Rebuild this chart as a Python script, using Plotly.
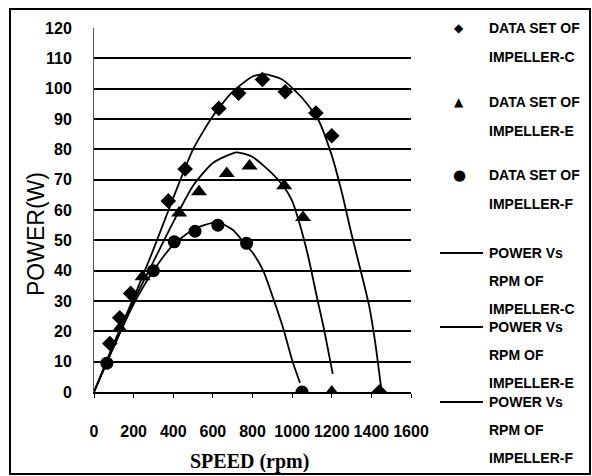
import plotly.graph_objects as go

# ---------------- data ----------------
c_speed = [80, 130, 185, 375, 460, 630, 730, 850, 965, 1120, 1200, 1440]
c_power = [16, 24.5, 32.5, 63, 73.5, 93.5, 98.5, 103, 99, 92, 84.5, 0]

e_speed = [130, 245, 430, 530, 670, 785, 960, 1055, 1200]
e_power = [21, 38, 59, 66, 72, 74.5, 68, 57.5, 0]

f_speed = [65, 300, 405, 510, 625, 770, 1050]
f_power = [9.5, 40, 49.5, 53, 55, 49, 0]

# fitted curves as drawn in the picture
c_curve_x = [0, 100, 200, 300, 400, 500, 600, 700, 800, 860, 950, 1050, 1130, 1200, 1250, 1300, 1350, 1390, 1420, 1450]
c_curve_y = [0, 16, 31, 47, 64, 80, 91, 99, 104, 104.8, 103, 97, 90, 78, 66, 52, 39, 28, 16, 1]

e_curve_x = [0, 100, 200, 300, 400, 500, 600, 720, 800, 900, 960, 1000, 1040, 1080, 1126, 1160, 1190, 1205]
e_curve_y = [0, 15, 30, 43, 56, 68, 75.5, 79, 77.5, 72, 67.5, 63, 55, 45, 31, 21, 11, 6]

f_curve_x = [0, 100, 200, 300, 400, 500, 620, 700, 760, 800, 854, 904, 955, 1000, 1040]
f_curve_y = [0, 15, 29, 40, 48.5, 53.5, 56, 53.5, 49, 46, 40, 31, 21, 10.5, 3]

x_ticks = [0, 200, 400, 600, 800, 1000, 1200, 1400, 1600]
y_ticks = [0, 10, 20, 30, 40, 50, 60, 70, 80, 90, 100, 110, 120]

legend_marker_items = [("diamond", ["DATA SET OF", "IMPELLER-C"]),
                       ("triangle", ["DATA SET OF", "IMPELLER-E"]),
                       ("circle", ["DATA SET OF", "IMPELLER-F"])]
legend_line_items = [["POWER Vs", "RPM OF", "IMPELLER-C"],
                     ["POWER Vs", "RPM OF", "IMPELLER-E"],
                     ["POWER Vs", "RPM OF", "IMPELLER-F"]]

# ---------------- layout geometry ----------------
W, H = 592, 476
L, R, T, B = 94, 411, 28, 392   # plot area in pixels
PW, PH = R - L, B - T


def px(xp):
    return (xp - L) / PW


def py(yp):
    return (B - yp) / PH


SANS = "Liberation Sans, Arial, sans-serif"

fig = go.Figure()

for cx, cy in [(c_curve_x, c_curve_y), (e_curve_x, e_curve_y), (f_curve_x, f_curve_y)]:
    fig.add_trace(go.Scatter(x=cx, y=cy, mode="lines", line=dict(color="black", width=1.8, shape="spline", smoothing=0.6),
                             showlegend=False, hoverinfo="skip"))

fig.add_trace(go.Scatter(x=c_speed, y=c_power, mode="markers", showlegend=False,
                         marker=dict(symbol="diamond", size=12, color="black")))
fig.add_trace(go.Scatter(x=e_speed, y=e_power, mode="markers", showlegend=False,
                         marker=dict(symbol="triangle-up", size=14, color="black")))
fig.add_trace(go.Scatter(x=f_speed, y=f_power, mode="markers", showlegend=False,
                         marker=dict(symbol="circle", size=13, color="black")))

annotations = []
shapes = []

# outer frame
shapes.append(dict(type="rect", xref="paper", yref="paper",
                   x0=px(10), x1=px(590), y0=py(474), y1=py(9),
                   line=dict(color="black", width=2), fillcolor="rgba(0,0,0,0)", layer="above"))

# legend (manual, Excel-like fixed spacing)
sym_text = {"diamond": "◆", "triangle": "▲", "circle": "●"}
sym_size = {"diamond": 12, "triangle": 12, "circle": 15}
marker_rows = [28, 102, 175]
for (sym, lines), y0 in zip(legend_marker_items, marker_rows):
    annotations.append(dict(x=px(459), y=py(y0), xref="paper", yref="paper", text=sym_text[sym],
                            showarrow=False, xanchor="center", yanchor="middle",
                            font=dict(family="DejaVu Sans", size=sym_size[sym], color="black")))
    for i, t in enumerate(lines):
        annotations.append(dict(x=px(487), y=py(y0 + i * 29), xref="paper", yref="paper", text=t,
                                showarrow=False, xanchor="left", yanchor="middle",
                                font=dict(family=SANS, size=14, color="black", weight="bold")))

line_rows = [253, 327, 402]
for lines, y0 in zip(legend_line_items, line_rows):
    shapes.append(dict(type="line", xref="paper", yref="paper", x0=px(440), x1=px(483),
                       y0=py(y0), y1=py(y0), line=dict(color="black", width=1.8)))
    for i, t in enumerate(lines):
        annotations.append(dict(x=px(487), y=py(y0 + i * 28), xref="paper", yref="paper", text=t,
                                showarrow=False, xanchor="left", yanchor="middle",
                                font=dict(family=SANS, size=14, color="black", weight="bold")))

# axis titles
annotations.append(dict(x=px(249), y=py(461), xref="paper", yref="paper", text="<b>SPEED (rpm)</b>",
                        showarrow=False, xanchor="center", yanchor="middle",
                        font=dict(family="Liberation Serif, Times New Roman, serif", size=20, color="black")))
annotations.append(dict(x=px(36), y=py(234), xref="paper", yref="paper", text="POWER(W)", textangle=-90,
                        showarrow=False, xanchor="center", yanchor="middle",
                        font=dict(family=SANS, size=23, color="black")))

fig.update_layout(
    width=W, height=H,
    margin=dict(l=L, r=W - R, t=T, b=H - B, pad=0),
    paper_bgcolor="white", plot_bgcolor="white",
    showlegend=False,
    annotations=annotations, shapes=shapes,
)

fig.update_xaxes(range=[0, 1600], tickvals=x_ticks, ticktext=[str(v) for v in x_ticks], tickangle=0,
                 showgrid=False, zeroline=False, showline=True, linecolor="black", linewidth=2,
                 ticks="outside", ticklen=4, tickcolor="black", tickwidth=1,
                 ticklabelstandoff=20,
                 tickfont=dict(family=SANS, size=16, color="black", weight="bold"))
fig.update_yaxes(range=[0, 120], tickvals=y_ticks, ticktext=[str(v) for v in y_ticks],
                 showgrid=True, gridcolor="black", gridwidth=1.5, zeroline=False,
                 showline=True, linecolor="#555", linewidth=1, ticks="",
                 ticklabelstandoff=18,
                 tickfont=dict(family=SANS, size=16, color="black", weight="bold"))

fig.write_html("out.html")
